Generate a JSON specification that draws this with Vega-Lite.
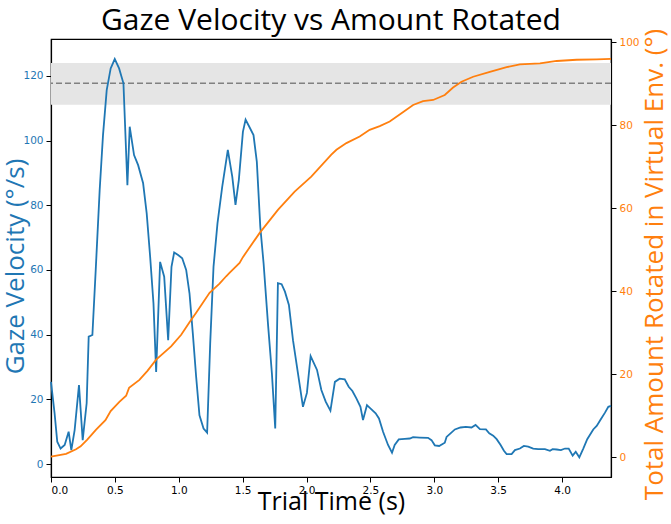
{
  "$schema": "https://vega.github.io/schema/vega-lite/v6.json",
  "description": "Gaze velocity and cumulative rotation over trial time, dual y axes.",
  "autosize": {"type": "none"},
  "padding": {"left": 51, "top": 39, "right": 60, "bottom": 47},
  "width": 560,
  "height": 438,
  "background": "white",
  "title": {
    "text": "Gaze Velocity vs Amount Rotated",
    "font": "Open Sans",
    "fontSize": 30,
    "fontWeight": "normal",
    "color": "#000000",
    "anchor": "middle",
    "baseline": "alphabetic",
    "offset": -32
  },
  "datasets": {
    "gaze": [
      {"t": 0.000, "v": 25.4}, {"t": 0.028, "v": 15.7}, {"t": 0.049, "v": 6.9}, {"t": 0.075, "v": 4.8},
      {"t": 0.107, "v": 5.9}, {"t": 0.138, "v": 10.0}, {"t": 0.159, "v": 4.3}, {"t": 0.185, "v": 10.5},
      {"t": 0.219, "v": 24.4}, {"t": 0.248, "v": 7.4}, {"t": 0.279, "v": 18.8}, {"t": 0.295, "v": 39.4},
      {"t": 0.324, "v": 39.9}, {"t": 0.350, "v": 60.0}, {"t": 0.381, "v": 84.7}, {"t": 0.407, "v": 101.7},
      {"t": 0.436, "v": 115.6}, {"t": 0.467, "v": 122.3}, {"t": 0.499, "v": 125.2}, {"t": 0.533, "v": 122.3},
      {"t": 0.567, "v": 117.7}, {"t": 0.598, "v": 86.2}, {"t": 0.616, "v": 104.3}, {"t": 0.650, "v": 95.5},
      {"t": 0.682, "v": 92.4}, {"t": 0.721, "v": 86.8}, {"t": 0.749, "v": 77.5}, {"t": 0.776, "v": 64.1},
      {"t": 0.802, "v": 49.7}, {"t": 0.823, "v": 28.5}, {"t": 0.854, "v": 62.5}, {"t": 0.886, "v": 57.9},
      {"t": 0.917, "v": 38.3}, {"t": 0.943, "v": 61.0}, {"t": 0.964, "v": 65.4}, {"t": 0.995, "v": 64.6},
      {"t": 1.027, "v": 63.6}, {"t": 1.058, "v": 60.0}, {"t": 1.084, "v": 52.8}, {"t": 1.110, "v": 40.4},
      {"t": 1.136, "v": 27.0}, {"t": 1.162, "v": 15.1}, {"t": 1.194, "v": 11.0}, {"t": 1.222, "v": 9.7},
      {"t": 1.246, "v": 37.3}, {"t": 1.272, "v": 61.0}, {"t": 1.303, "v": 74.4}, {"t": 1.340, "v": 85.7},
      {"t": 1.384, "v": 97.1}, {"t": 1.419, "v": 88.8}, {"t": 1.444, "v": 80.1}, {"t": 1.470, "v": 87.8},
      {"t": 1.502, "v": 102.7}, {"t": 1.523, "v": 106.5}, {"t": 1.549, "v": 104.5}, {"t": 1.585, "v": 101.7},
      {"t": 1.611, "v": 93.4}, {"t": 1.638, "v": 73.4}, {"t": 1.664, "v": 62.0}, {"t": 1.698, "v": 43.5},
      {"t": 1.729, "v": 28.0}, {"t": 1.755, "v": 11.0}, {"t": 1.776, "v": 55.9}, {"t": 1.805, "v": 55.6},
      {"t": 1.831, "v": 53.3}, {"t": 1.862, "v": 49.2}, {"t": 1.894, "v": 38.3}, {"t": 1.933, "v": 28.0},
      {"t": 1.972, "v": 17.7}, {"t": 2.003, "v": 22.0}, {"t": 2.032, "v": 33.4}, {"t": 2.082, "v": 29.1},
      {"t": 2.116, "v": 22.9}, {"t": 2.150, "v": 19.3}, {"t": 2.187, "v": 16.5}, {"t": 2.222, "v": 25.4},
      {"t": 2.259, "v": 26.4}, {"t": 2.299, "v": 26.2}, {"t": 2.330, "v": 23.9}, {"t": 2.359, "v": 22.6},
      {"t": 2.390, "v": 20.3}, {"t": 2.422, "v": 17.7}, {"t": 2.442, "v": 13.6}, {"t": 2.473, "v": 18.2},
      {"t": 2.508, "v": 16.9}, {"t": 2.541, "v": 15.7}, {"t": 2.567, "v": 14.1}, {"t": 2.599, "v": 10.0},
      {"t": 2.638, "v": 5.9}, {"t": 2.669, "v": 3.5}, {"t": 2.690, "v": 5.9}, {"t": 2.722, "v": 7.6},
      {"t": 2.769, "v": 7.8}, {"t": 2.808, "v": 7.9}, {"t": 2.834, "v": 8.3}, {"t": 2.886, "v": 8.2},
      {"t": 2.951, "v": 8.1}, {"t": 2.978, "v": 7.4}, {"t": 3.004, "v": 5.8}, {"t": 3.038, "v": 5.6},
      {"t": 3.082, "v": 6.6}, {"t": 3.096, "v": 8.4}, {"t": 3.127, "v": 9.5}, {"t": 3.161, "v": 10.7},
      {"t": 3.205, "v": 11.3}, {"t": 3.247, "v": 11.5}, {"t": 3.291, "v": 11.3}, {"t": 3.323, "v": 12.1},
      {"t": 3.357, "v": 10.8}, {"t": 3.404, "v": 10.7}, {"t": 3.430, "v": 9.5}, {"t": 3.461, "v": 8.8},
      {"t": 3.488, "v": 7.7}, {"t": 3.519, "v": 5.9}, {"t": 3.545, "v": 4.1}, {"t": 3.566, "v": 3.1},
      {"t": 3.605, "v": 3.1}, {"t": 3.631, "v": 4.3}, {"t": 3.670, "v": 4.8}, {"t": 3.701, "v": 5.6},
      {"t": 3.735, "v": 5.4}, {"t": 3.774, "v": 4.8}, {"t": 3.813, "v": 4.6}, {"t": 3.866, "v": 4.6},
      {"t": 3.905, "v": 4.1}, {"t": 3.926, "v": 4.6}, {"t": 3.958, "v": 4.5}, {"t": 3.991, "v": 4.3},
      {"t": 4.023, "v": 4.8}, {"t": 4.052, "v": 4.8}, {"t": 4.083, "v": 2.6}, {"t": 4.107, "v": 3.8},
      {"t": 4.135, "v": 2.1}, {"t": 4.166, "v": 4.8}, {"t": 4.197, "v": 7.7}, {"t": 4.244, "v": 10.7},
      {"t": 4.271, "v": 11.8}, {"t": 4.302, "v": 13.8}, {"t": 4.336, "v": 15.9}, {"t": 4.362, "v": 17.7},
      {"t": 4.383, "v": 18.0}
    ],
    "rotation": [
      {"t": 0.000, "deg": 0.1}, {"t": 0.118, "deg": 0.8}, {"t": 0.196, "deg": 1.9}, {"t": 0.232, "deg": 2.6},
      {"t": 0.284, "deg": 4.2}, {"t": 0.353, "deg": 6.6}, {"t": 0.426, "deg": 8.9}, {"t": 0.467, "deg": 11.1},
      {"t": 0.535, "deg": 13.3}, {"t": 0.588, "deg": 14.8}, {"t": 0.611, "deg": 16.7}, {"t": 0.692, "deg": 18.6},
      {"t": 0.755, "deg": 20.8}, {"t": 0.823, "deg": 23.5}, {"t": 0.940, "deg": 26.7}, {"t": 1.019, "deg": 29.5},
      {"t": 1.084, "deg": 32.5}, {"t": 1.136, "deg": 34.8}, {"t": 1.241, "deg": 39.6}, {"t": 1.319, "deg": 41.8},
      {"t": 1.371, "deg": 43.6}, {"t": 1.397, "deg": 44.4}, {"t": 1.476, "deg": 46.8}, {"t": 1.502, "deg": 48.2},
      {"t": 1.632, "deg": 54.0}, {"t": 1.776, "deg": 59.6}, {"t": 1.907, "deg": 64.0}, {"t": 2.037, "deg": 67.6},
      {"t": 2.194, "deg": 72.9}, {"t": 2.234, "deg": 74.1}, {"t": 2.312, "deg": 75.7}, {"t": 2.416, "deg": 77.3},
      {"t": 2.494, "deg": 78.9}, {"t": 2.573, "deg": 79.8}, {"t": 2.651, "deg": 80.9}, {"t": 2.743, "deg": 82.9},
      {"t": 2.834, "deg": 84.9}, {"t": 2.912, "deg": 85.8}, {"t": 2.991, "deg": 86.1}, {"t": 3.082, "deg": 87.3},
      {"t": 3.147, "deg": 89.1}, {"t": 3.213, "deg": 90.5}, {"t": 3.304, "deg": 91.7}, {"t": 3.435, "deg": 92.9},
      {"t": 3.566, "deg": 94.0}, {"t": 3.670, "deg": 94.7}, {"t": 3.827, "deg": 94.9}, {"t": 3.958, "deg": 95.5},
      {"t": 4.114, "deg": 95.8}, {"t": 4.271, "deg": 95.9}, {"t": 4.383, "deg": 96.0}
    ],
    "threshold": [
      {"lo": 111.1, "mean": 117.7, "hi": 124.0}
    ]
  },
  "layer": [
    {
      "layer": [
        {
          "data": {"name": "threshold"},
          "mark": {"type": "rect", "color": "#e5e5e5"},
          "encoding": {
            "y": {"field": "lo", "type": "quantitative"},
            "y2": {"field": "hi"}
          }
        },
        {
          "data": {"name": "threshold"},
          "mark": {"type": "rule", "color": "#808080", "strokeWidth": 1.5, "strokeDash": [6, 3]},
          "encoding": {
            "y": {"field": "mean", "type": "quantitative"}
          }
        },
        {
          "data": {"name": "gaze"},
          "mark": {"type": "line", "color": "#1f77b4", "strokeWidth": 1.8},
          "encoding": {
            "x": {
              "field": "t",
              "type": "quantitative",
              "scale": {"domain": [0, 4.383], "nice": false, "zero": false},
              "axis": {
                "title": "Trial Time (s)",
                "values": [0, 0.5, 1, 1.5, 2, 2.5, 3, 3.5, 4],
                "format": ".1f",
                "titleFontSize": 25,
                "titlePadding": -6
              }
            },
            "y": {
              "field": "v",
              "type": "quantitative",
              "scale": {"domain": [-4.0, 131.4], "nice": false, "zero": false},
              "axis": {
                "title": "Gaze Velocity (°/s)",
                "values": [0, 20, 40, 60, 80, 100, 120],
                "labelColor": "#1f77b4",
                "titleColor": "#1f77b4",
                "titlePadding": -6,
                "titleY": 227
              }
            }
          }
        }
      ]
    },
    {
      "data": {"name": "rotation"},
      "mark": {"type": "line", "color": "#ff7f0e", "strokeWidth": 1.8},
      "encoding": {
        "x": {"field": "t", "type": "quantitative"},
        "y": {
          "field": "deg",
          "type": "quantitative",
          "scale": {"domain": [-4.8, 100.8], "nice": false, "zero": false},
          "axis": {
            "orient": "right",
            "title": "Total Amount Rotated in Virtual Env. (°)",
            "values": [0, 20, 40, 60, 80, 100],
            "labelColor": "#ff7f0e",
            "titleColor": "#ff7f0e",
            "titleAngle": 270,
            "titleBaseline": "top",
            "titlePadding": 2,
            "titleY": 225
          }
        }
      }
    }
  ],
  "resolve": {"scale": {"y": "independent"}},
  "config": {
    "view": {"stroke": "#000000", "strokeWidth": 1.2},
    "axis": {
      "grid": false,
      "domainColor": "#000000",
      "domainWidth": 1.2,
      "tickColor": "#000000",
      "tickSize": 5,
      "tickWidth": 1,
      "labelFont": "DejaVu Sans",
      "labelFontSize": 10.5,
      "labelPadding": 3,
      "titleFont": "Open Sans",
      "titleFontSize": 26,
      "titleFontWeight": "normal",
      "titleColor": "#000000",
      "labelColor": "#000000"
    }
  }
}
